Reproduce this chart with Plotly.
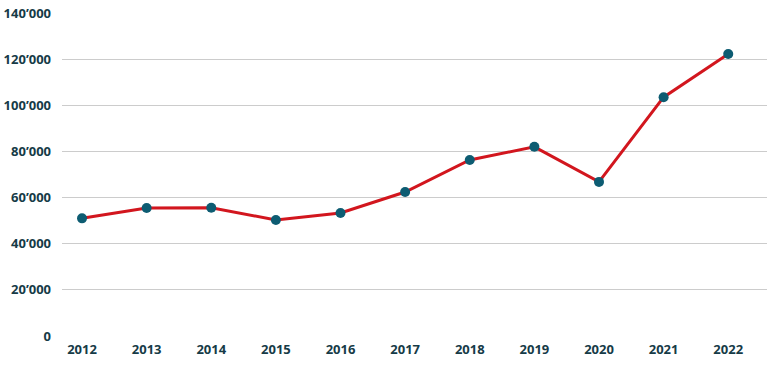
import plotly.graph_objects as go

years = [2012, 2013, 2014, 2015, 2016, 2017, 2018, 2019, 2020, 2021, 2022]
values = [51000, 55500, 55600, 50300, 53300, 62400, 76300, 82000, 66800, 103500, 122200]
y_ticks = [0, 20000, 40000, 60000, 80000, 100000, 120000, 140000]

fig = go.Figure()
fig.add_trace(go.Scatter(
    x=years, y=values, mode="lines+markers",
    line=dict(color="#d2161e", width=3),
    marker=dict(color="#0d5c72", size=10),
    showlegend=False, hoverinfo="x+y"
))

tick_font = dict(family="Open Sans, Lato, sans-serif", size=13, color="#163b47", weight="bold")

fig.update_layout(
    width=768, height=376,
    margin=dict(l=62, r=1, t=13, b=40),
    paper_bgcolor="white", plot_bgcolor="white",
    separators=".’",
    xaxis=dict(
        range=[2011.69, 2022.6], tickvals=years, ticktext=[str(y) for y in years],
        showgrid=False, zeroline=False, showline=False, automargin=False,
        tickfont=tick_font, ticks="", ticklabelstandoff=4,
    ),
    yaxis=dict(
        range=[0, 140000], tickvals=y_ticks, tickformat=",d",
        showgrid=True, gridcolor="#cccccc", gridwidth=1, automargin=False,
        zeroline=False, showline=False,
        tickfont=tick_font, ticks="", ticklabelstandoff=10,
    ),
)

fig.write_html("out.html", config={"displayModeBar": False},
               post_script="document.body.style.margin='0';document.body.style.overflow='hidden';")
